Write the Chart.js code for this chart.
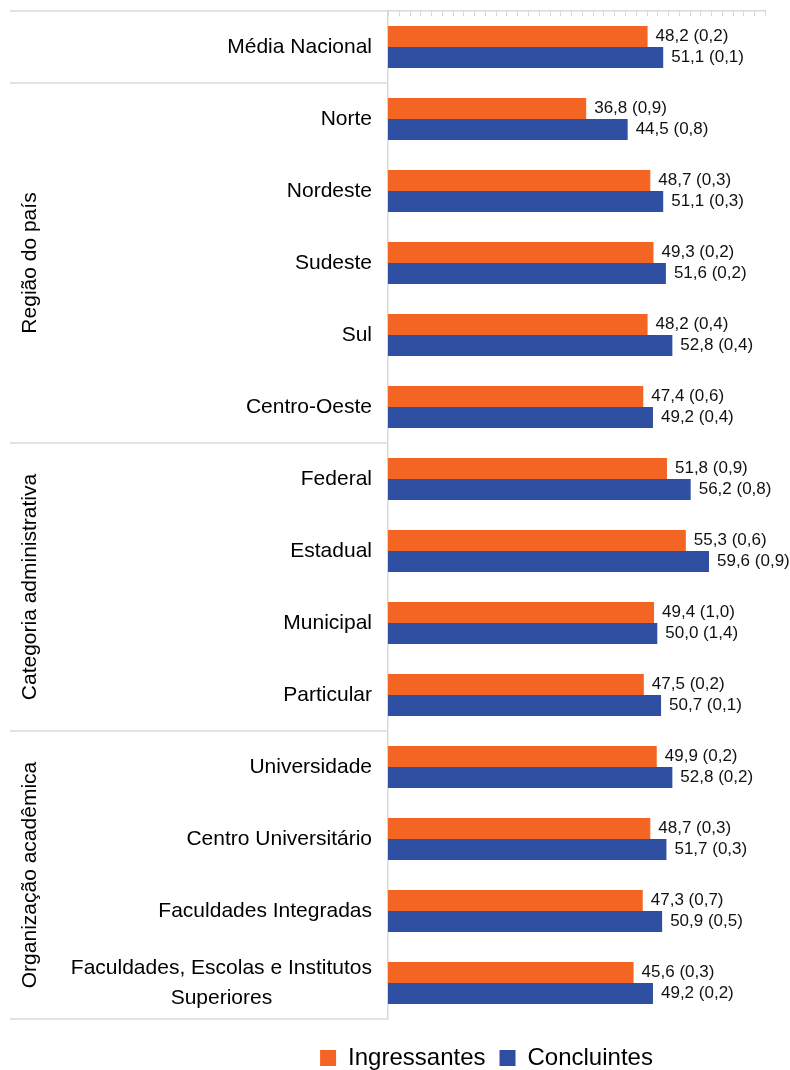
<!DOCTYPE html>
<html lang="pt-BR">
<head>
  <meta charset="UTF-8">
  <title>Ingressantes e Concluintes</title>
  <script src="https://cdn.jsdelivr.net/npm/chart.js"></script>
  <style>
    html, body {
      margin: 0;
      padding: 0;
      background: #fff;
    }
    #quadro {
      width: 790px;
      height: 1070px;
    }
  </style>
</head>
<body>
  <div id="quadro"><canvas id="grafica"></canvas></div>

  <script>
    // Dados
    const categorias = [
      'Média Nacional',
      'Norte', 'Nordeste', 'Sudeste', 'Sul', 'Centro-Oeste',
      'Federal', 'Estadual', 'Municipal', 'Particular',
      'Universidade', 'Centro Universitário', 'Faculdades Integradas',
      ['Faculdades, Escolas e Institutos', 'Superiores']
    ];
    const ingressantes = [48.2, 36.8, 48.7, 49.3, 48.2, 47.4, 51.8, 55.3, 49.4, 47.5, 49.9, 48.7, 47.3, 45.6];
    const erroIngressantes = [0.2, 0.9, 0.3, 0.2, 0.4, 0.6, 0.9, 0.6, 1.0, 0.2, 0.2, 0.3, 0.7, 0.3];
    const concluintes = [51.1, 44.5, 51.1, 51.6, 52.8, 49.2, 56.2, 59.6, 50.0, 50.7, 52.8, 51.7, 50.9, 49.2];
    const erroConcluintes = [0.1, 0.8, 0.3, 0.2, 0.4, 0.4, 0.8, 0.9, 1.4, 0.1, 0.2, 0.3, 0.5, 0.2];
    const grupos = ['Região do país', 'Categoria administrativa', 'Organização acadêmica'];
    const inicioGrupos = [1, 6, 10];
    const fimGrupos = [5, 9, 13];

    const FONTE = "Arial, 'Liberation Sans', sans-serif";
    const CINZA = '#d9d9d9';

    const fmt = v => v.toFixed(1).replace('.', ',');

    // Desenha linhas da tabela, rótulos e valores
    const extras = {
      id: 'extras',
      beforeLayout(chart) {
        const leg = chart.legend;
        if (leg && !leg._ajustado) {
          const fitOriginal = leg.fit;
          leg.fit = function () {
            fitOriginal.call(this);
            this.height = 51;
          };
          leg._ajustado = true;
        }
      },
      afterLayout(chart) {
        // legenda um pouco mais abaixo e à direita, como no original
        const leg = chart.legend;
        leg.left += 104;
        leg.right += 104;
        leg.top += 13;
        leg.bottom += 13;
      },
      afterDraw(chart) {
        const ctx = chart.ctx;
        const area = chart.chartArea;
        const ys = chart.scales.y;
        const xs = chart.scales.x;
        const meio = i => (ys.getPixelForValue(i) + ys.getPixelForValue(i + 1)) / 2;

        ctx.save();
        // linhas horizontais da tabela
        ctx.strokeStyle = CINZA;
        ctx.lineWidth = 1.5;
        const linhas = [area.top, meio(0), meio(5), meio(9), area.bottom];
        linhas.forEach(y => {
          ctx.beginPath();
          ctx.moveTo(10, y);
          ctx.lineTo(area.left, y);
          ctx.stroke();
        });

        // marcas do eixo
        ctx.lineWidth = 1;
        xs.ticks.forEach(t => {
          const x = Math.round(xs.getPixelForValue(t.value)) + 0.5;
          ctx.beginPath();
          ctx.moveTo(x, area.top);
          ctx.lineTo(x, area.top + 5);
          ctx.stroke();
        });

        // rótulos das categorias
        ctx.fillStyle = '#000';
        ctx.font = '21px ' + FONTE;
        ctx.textBaseline = 'middle';
        ctx.textAlign = 'center';
        categorias.forEach((c, i) => {
          const partes = Array.isArray(c) ? c : [c];
          const larg = Math.max(...partes.map(p => ctx.measureText(p).width));
          const cx = area.left - 16 - larg / 2;
          const y0 = ys.getPixelForValue(i) - (partes.length - 1) * 15;
          partes.forEach((p, k) => ctx.fillText(p, cx, y0 + k * 30));
        });

        // rótulos dos grupos (verticais)
        grupos.forEach((g, k) => {
          const y = (ys.getPixelForValue(inicioGrupos[k]) + ys.getPixelForValue(fimGrupos[k])) / 2;
          ctx.save();
          ctx.translate(30, y);
          ctx.rotate(-Math.PI / 2);
          ctx.fillText(g, 0, 0);
          ctx.restore();
        });

        // valores nas barras
        ctx.font = '17px ' + FONTE;
        ctx.textAlign = 'left';
        ctx.fillStyle = '#111';
        const erros = [erroIngressantes, erroConcluintes];
        chart.data.datasets.forEach((ds, d) => {
          chart.getDatasetMeta(d).data.forEach((bar, i) => {
            const txt = fmt(ds.data[i]) + ' (' + fmt(erros[d][i]) + ')';
            ctx.fillText(txt, bar.x + 8, bar.y);
          });
        });
        ctx.restore();
      }
    };

    new Chart(document.getElementById('grafica'), {
      type: 'bar',
      data: {
        labels: categorias,
        datasets: [
          {
            label: 'Ingressantes',
            data: ingressantes,
            backgroundColor: '#f46524'
          },
          {
            label: 'Concluintes',
            data: concluintes,
            backgroundColor: '#2e4fa2'
          }
        ]
      },
      options: {
        indexAxis: 'y',
        responsive: true,
        maintainAspectRatio: false,
        animation: false,
        layout: { padding: { left: 0, right: 25, top: 0, bottom: 0 } },
        datasets: {
          bar: { categoryPercentage: 0.58, barPercentage: 1.0 }
        },
        scales: {
          x: {
            position: 'top',
            min: 0,
            max: 70,
            ticks: { display: false, stepSize: 2 },
            grid: { display: false },
            border: { display: true, color: CINZA, width: 1.5 },
            afterFit(s) { s.height = 11; }
          },
          y: {
            ticks: { display: false },
            grid: { display: false },
            border: { display: true, color: CINZA, width: 1.5 },
            afterFit(s) { s.width = 388; }
          }
        },
        plugins: {
          legend: {
            position: 'bottom',
            labels: {
              boxWidth: 16,
              boxHeight: 16,
              padding: 14,
              color: '#000',
              font: { family: FONTE, size: 24 }
            }
          },
          tooltip: { enabled: false }
        }
      },
      plugins: [extras]
    });
  </script>
</body>
</html>
